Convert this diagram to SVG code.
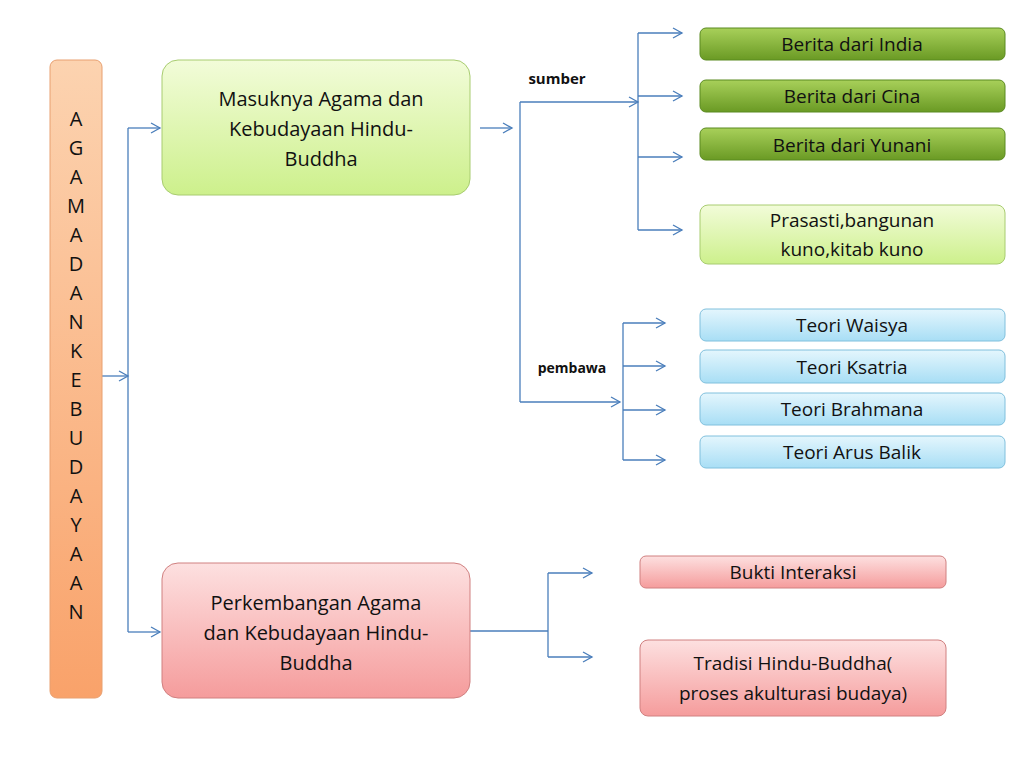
<svg xmlns="http://www.w3.org/2000/svg" width="1024" height="768" viewBox="0 0 1024 768">
<style>
text{font-family:"Open Sans","Liberation Sans",sans-serif;fill:#111;text-anchor:middle}
.t{font-size:20px}.s{font-size:19px}.b{font-size:15px;font-weight:bold}
.c{fill:none;stroke:#4a7ebb;stroke-width:1.3}
.a{fill:none;stroke:#4a7ebb;stroke-width:1.3;marker-end:url(#ar)}
</style>
<defs>
<marker id="ar" markerWidth="12" markerHeight="12" refX="10" refY="6" orient="auto" markerUnits="userSpaceOnUse"><path d="M1,1 L10,6 L1,11" fill="none" stroke="#4a7ebb" stroke-width="1.3"/></marker>
<linearGradient id="or" x1="0" y1="0" x2="0" y2="1"><stop offset="0" stop-color="#fcd3b0"/><stop offset="1" stop-color="#f9a26a"/></linearGradient>
<linearGradient id="lg" x1="0" y1="0" x2="0" y2="1"><stop offset="0" stop-color="#f2fcd9"/><stop offset="1" stop-color="#cdf08c"/></linearGradient>
<linearGradient id="dg" x1="0" y1="0" x2="0" y2="1"><stop offset="0" stop-color="#a8d05a"/><stop offset="1" stop-color="#6a9a24"/></linearGradient>
<linearGradient id="bl" x1="0" y1="0" x2="0" y2="1"><stop offset="0" stop-color="#e4f6fd"/><stop offset="1" stop-color="#a8def5"/></linearGradient>
<linearGradient id="rd" x1="0" y1="0" x2="0" y2="1"><stop offset="0" stop-color="#fde0e0"/><stop offset="1" stop-color="#f59c9c"/></linearGradient>
</defs>
<g id="connectors">
<path class="a" d="M102,376 H128"/>
<path class="c" d="M128,128 V632"/>
<path class="a" d="M128,128 H160"/>
<path class="a" d="M128,632 H160"/>
<path class="a" d="M480,128 H512"/>
<path class="c" d="M520,102 V402"/>
<path class="a" d="M520,102 H638"/>
<path class="c" d="M638,33 V230"/>
<path class="a" d="M638,33 H682"/>
<path class="a" d="M638,96 H682"/>
<path class="a" d="M638,157 H682"/>
<path class="a" d="M638,230 H682"/>
<path class="a" d="M520,402 H620"/>
<path class="c" d="M623,323 V460"/>
<path class="a" d="M623,323 H665"/>
<path class="a" d="M623,366 H665"/>
<path class="a" d="M623,410 H665"/>
<path class="a" d="M623,460 H665"/>
<path class="c" d="M470,631 H548"/>
<path class="c" d="M548,573 V657"/>
<path class="a" d="M548,573 H592"/>
<path class="a" d="M548,657 H592"/>
<text class="b" x="557" y="84">sumber</text>
<text class="b" x="572" y="373" style="font-size:14px">pembawa</text>
</g>
<g id="root"><rect x="50" y="60" width="52" height="638" rx="7" fill="url(#or)" stroke="#e8a070"/>
<text class="t"><tspan x="76" y="126">A</tspan><tspan x="76" y="155">G</tspan><tspan x="76" y="184">A</tspan><tspan x="76" y="213">M</tspan><tspan x="76" y="242">A</tspan><tspan x="76" y="271">D</tspan><tspan x="76" y="300">A</tspan><tspan x="76" y="329">N</tspan><tspan x="76" y="358">K</tspan><tspan x="76" y="387">E</tspan><tspan x="76" y="416">B</tspan><tspan x="76" y="445">U</tspan><tspan x="76" y="474">D</tspan><tspan x="76" y="503">A</tspan><tspan x="76" y="532">Y</tspan><tspan x="76" y="561">A</tspan><tspan x="76" y="590">A</tspan><tspan x="76" y="619">N</tspan></text></g>
<g id="masuknya"><rect x="162" y="60" width="308" height="135" rx="16" fill="url(#lg)" stroke="#a8cc70"/>
<text class="t"><tspan x="321" y="106">Masuknya  Agama dan</tspan><tspan x="321" y="136">Kebudayaan Hindu-</tspan><tspan x="321" y="166">Buddha</tspan></text></g>
<g id="perkembangan"><rect x="162" y="563" width="308" height="135" rx="16" fill="url(#rd)" stroke="#d08080"/>
<text class="t"><tspan x="316" y="610">Perkembangan Agama</tspan><tspan x="316" y="640">dan Kebudayaan Hindu-</tspan><tspan x="316" y="670">Buddha</tspan></text></g>
<g id="india"><rect x="700" y="28" width="305" height="32" rx="6" fill="url(#dg)" stroke="#5a8a20"/><text class="s" x="852" y="51">Berita dari India</text></g>
<g id="cina"><rect x="700" y="80" width="305" height="32" rx="6" fill="url(#dg)" stroke="#5a8a20"/><text class="s" x="852" y="103">Berita dari Cina</text></g>
<g id="yunani"><rect x="700" y="128" width="305" height="32" rx="6" fill="url(#dg)" stroke="#5a8a20"/><text class="s" x="852" y="152">Berita dari Yunani</text></g>
<g id="prasasti"><rect x="700" y="205" width="305" height="59" rx="8" fill="url(#lg)" stroke="#a8cc70"/><text class="s"><tspan x="852" y="227">Prasasti,bangunan</tspan><tspan x="852" y="256">kuno,kitab kuno</tspan></text></g>
<g id="waisya"><rect x="700" y="309" width="305" height="32" rx="6" fill="url(#bl)" stroke="#80c0dd"/><text class="s" x="852" y="332">Teori Waisya</text></g>
<g id="ksatria"><rect x="700" y="350" width="305" height="33" rx="6" fill="url(#bl)" stroke="#80c0dd"/><text class="s" x="852" y="374">Teori Ksatria</text></g>
<g id="brahmana"><rect x="700" y="393" width="305" height="32" rx="6" fill="url(#bl)" stroke="#80c0dd"/><text class="s" x="852" y="416">Teori Brahmana</text></g>
<g id="arus"><rect x="700" y="436" width="305" height="32" rx="6" fill="url(#bl)" stroke="#80c0dd"/><text class="s" x="852" y="459">Teori Arus Balik</text></g>
<g id="bukti"><rect x="640" y="556" width="306" height="32" rx="6" fill="url(#rd)" stroke="#d08080"/><text class="s" x="793" y="579">Bukti Interaksi</text></g>
<g id="tradisi"><rect x="640" y="640" width="306" height="76" rx="8" fill="url(#rd)" stroke="#d08080"/><text class="s"><tspan x="793" y="670">Tradisi Hindu-Buddha(</tspan><tspan x="793" y="700">proses akulturasi budaya)</tspan></text></g>
</svg>
